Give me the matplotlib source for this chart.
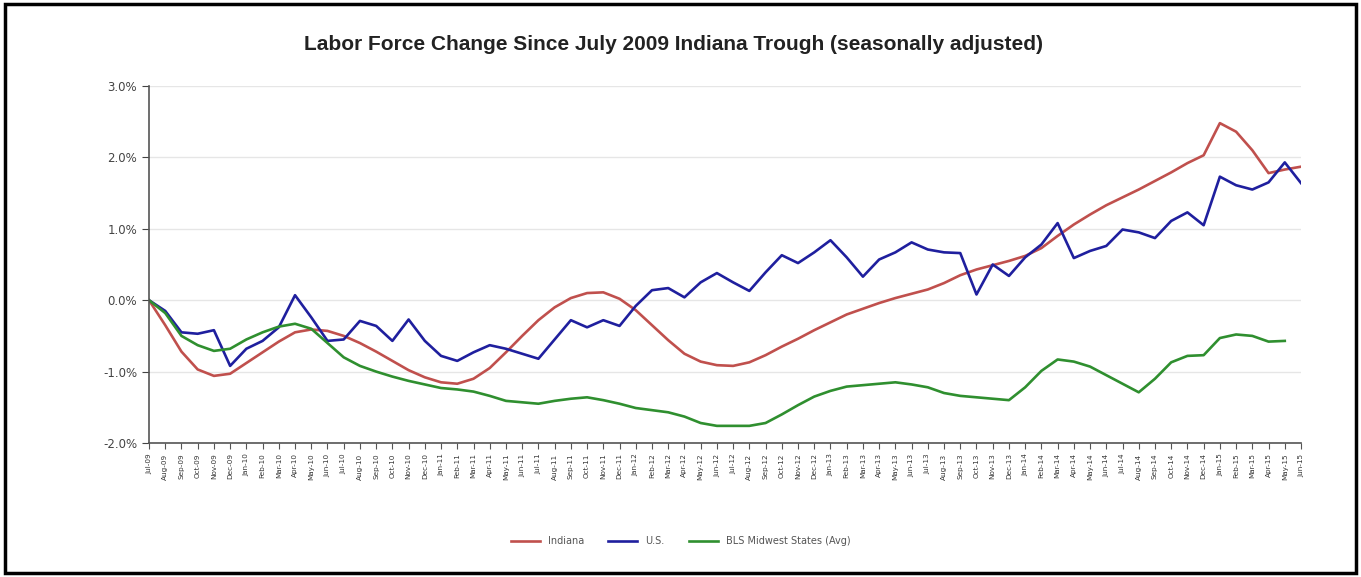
import matplotlib
matplotlib.use("Agg")
import matplotlib.pyplot as plt
from matplotlib.patches import Rectangle
from matplotlib.ticker import FuncFormatter, MultipleLocator
from matplotlib import font_manager

months = ["Jan", "Feb", "Mar", "Apr", "May", "Jun", "Jul", "Aug", "Sep", "Oct", "Nov", "Dec"]
labels = []
m, y = 6, 9
for _ in range(72):
    labels.append(f"{months[m]}-{y:02d}")
    m += 1
    if m == 12:
        m = 0
        y += 1

indiana = [0, -0.35, -0.72, -0.97, -1.06, -1.03, -0.88, -0.73, -0.58, -0.45,
           -0.41, -0.43, -0.5, -0.6, -0.72, -0.85, -0.98, -1.08, -1.15, -1.17,
           -1.1, -0.95, -0.73, -0.5, -0.28, -0.1, 0.03, 0.1, 0.11, 0.02,
           -0.14, -0.35, -0.56, -0.75, -0.86, -0.91, -0.92, -0.87, -0.77, -0.65,
           -0.54, -0.42, -0.31, -0.2, -0.12, -0.04, 0.03, 0.09, 0.15, 0.24,
           0.35, 0.43, 0.49, 0.55, 0.62, 0.73, 0.9, 1.06, 1.2, 1.33,
           1.44, 1.55, 1.67, 1.79, 1.92, 2.03, 2.48, 2.36, 2.1, 1.78,
           1.83, 1.87]

us = [0, -0.15, -0.45, -0.47, -0.42, -0.92, -0.68, -0.57, -0.38, 0.07,
      -0.24, -0.57, -0.55, -0.29, -0.36, -0.57, -0.27, -0.57, -0.78, -0.85,
      -0.73, -0.63, -0.68, -0.75, -0.82, -0.55, -0.28, -0.38, -0.28, -0.36,
      -0.08, 0.14, 0.17, 0.04, 0.25, 0.38, 0.25, 0.13, 0.39, 0.63,
      0.52, 0.67, 0.84, 0.6, 0.33, 0.57, 0.67, 0.81, 0.71, 0.67,
      0.66, 0.08, 0.5, 0.34, 0.6, 0.78, 1.08, 0.59, 0.69, 0.76,
      0.99, 0.95, 0.87, 1.11, 1.23, 1.05, 1.73, 1.61, 1.55, 1.65,
      1.93, 1.64]

midwest = [0, -0.18, -0.5, -0.63, -0.71, -0.68, -0.55, -0.45, -0.37, -0.33,
           -0.4, -0.6, -0.8, -0.92, -1.0, -1.07, -1.13, -1.18, -1.23, -1.25,
           -1.28, -1.34, -1.41, -1.43, -1.45, -1.41, -1.38, -1.36, -1.4, -1.45,
           -1.51, -1.54, -1.57, -1.63, -1.72, -1.76, -1.76, -1.76, -1.72, -1.6,
           -1.47, -1.35, -1.27, -1.21, -1.19, -1.17, -1.15, -1.18, -1.22, -1.3,
           -1.34, -1.36, -1.38, -1.4, -1.22, -0.99, -0.83, -0.86, -0.93, -1.05,
           -1.17, -1.29, -1.1, -0.87, -0.78, -0.77, -0.53, -0.48, -0.5, -0.58,
           -0.57]

series_names = ["Indiana", "U.S.", "BLS Midwest States (Avg)"]
colors = ["#c0504d", "#1f1f9e", "#2f8f2f"]

fig = plt.figure(figsize=(13.61, 5.77), dpi=100)
W, H = 1361, 577
ax = fig.add_axes([149 / W, 1 - 443 / H, (1301 - 149) / W, (443 - 86) / H])

x = list(range(len(labels)))
for data, name, c in zip([indiana, us, midwest], series_names, colors):
    ax.plot(x[:len(data)], data, color=c, lw=1.9, label=name, solid_joinstyle="round")

ax.set_xlim(0, len(labels) - 1)
ax.set_ylim(-2.0, 3.0)
ax.yaxis.set_major_locator(MultipleLocator(1.0))
ax.yaxis.set_major_formatter(FuncFormatter(lambda v, p: f"{v:.1f}%"))
ax.set_xticks(x)
ax.set_xticklabels(labels, rotation=90, fontsize=5.2, color="#333333")
ax.tick_params(axis="y", labelsize=8.5, colors="#444444", length=5, direction="out")
ax.tick_params(axis="x", length=4, direction="out", colors="#555555", labelcolor="#333333")
ax.grid(axis="y", color="#e6e6e6", lw=1)
ax.set_axisbelow(True)
for s in ["top", "right"]:
    ax.spines[s].set_visible(False)
for s in ["left", "bottom"]:
    ax.spines[s].set_color("#555555")
    ax.spines[s].set_linewidth(1.2)

names = {f.name for f in font_manager.fontManager.ttflist}
if "Liberation Sans Narrow" in names:
    tfam, tsize = ["Liberation Sans Narrow", "DejaVu Sans"], 16
else:
    tfam, tsize = ["Liberation Sans", "DejaVu Sans"], 15
fig.text(673 / W, 1 - 44 / H, "Labor Force Change Since July 2009 Indiana Trough (seasonally adjusted)",
         ha="center", va="center", fontsize=tsize, fontweight="bold",
         family=tfam, color="#222222")

leg = fig.legend(loc="center", bbox_to_anchor=(0.5, 1 - 541 / H), ncol=3, frameon=False,
                 fontsize=7, handlelength=3, columnspacing=2.5, handletextpad=0.8)
for t in leg.get_texts():
    t.set_color("#555555")

fig.patches.append(Rectangle((5 / W, 4 / H), 1 - 10 / W, 1 - 8 / H, transform=fig.transFigure,
                             fill=False, edgecolor="black", lw=2.5))

fig.savefig("out.png", dpi=100, facecolor="white")
